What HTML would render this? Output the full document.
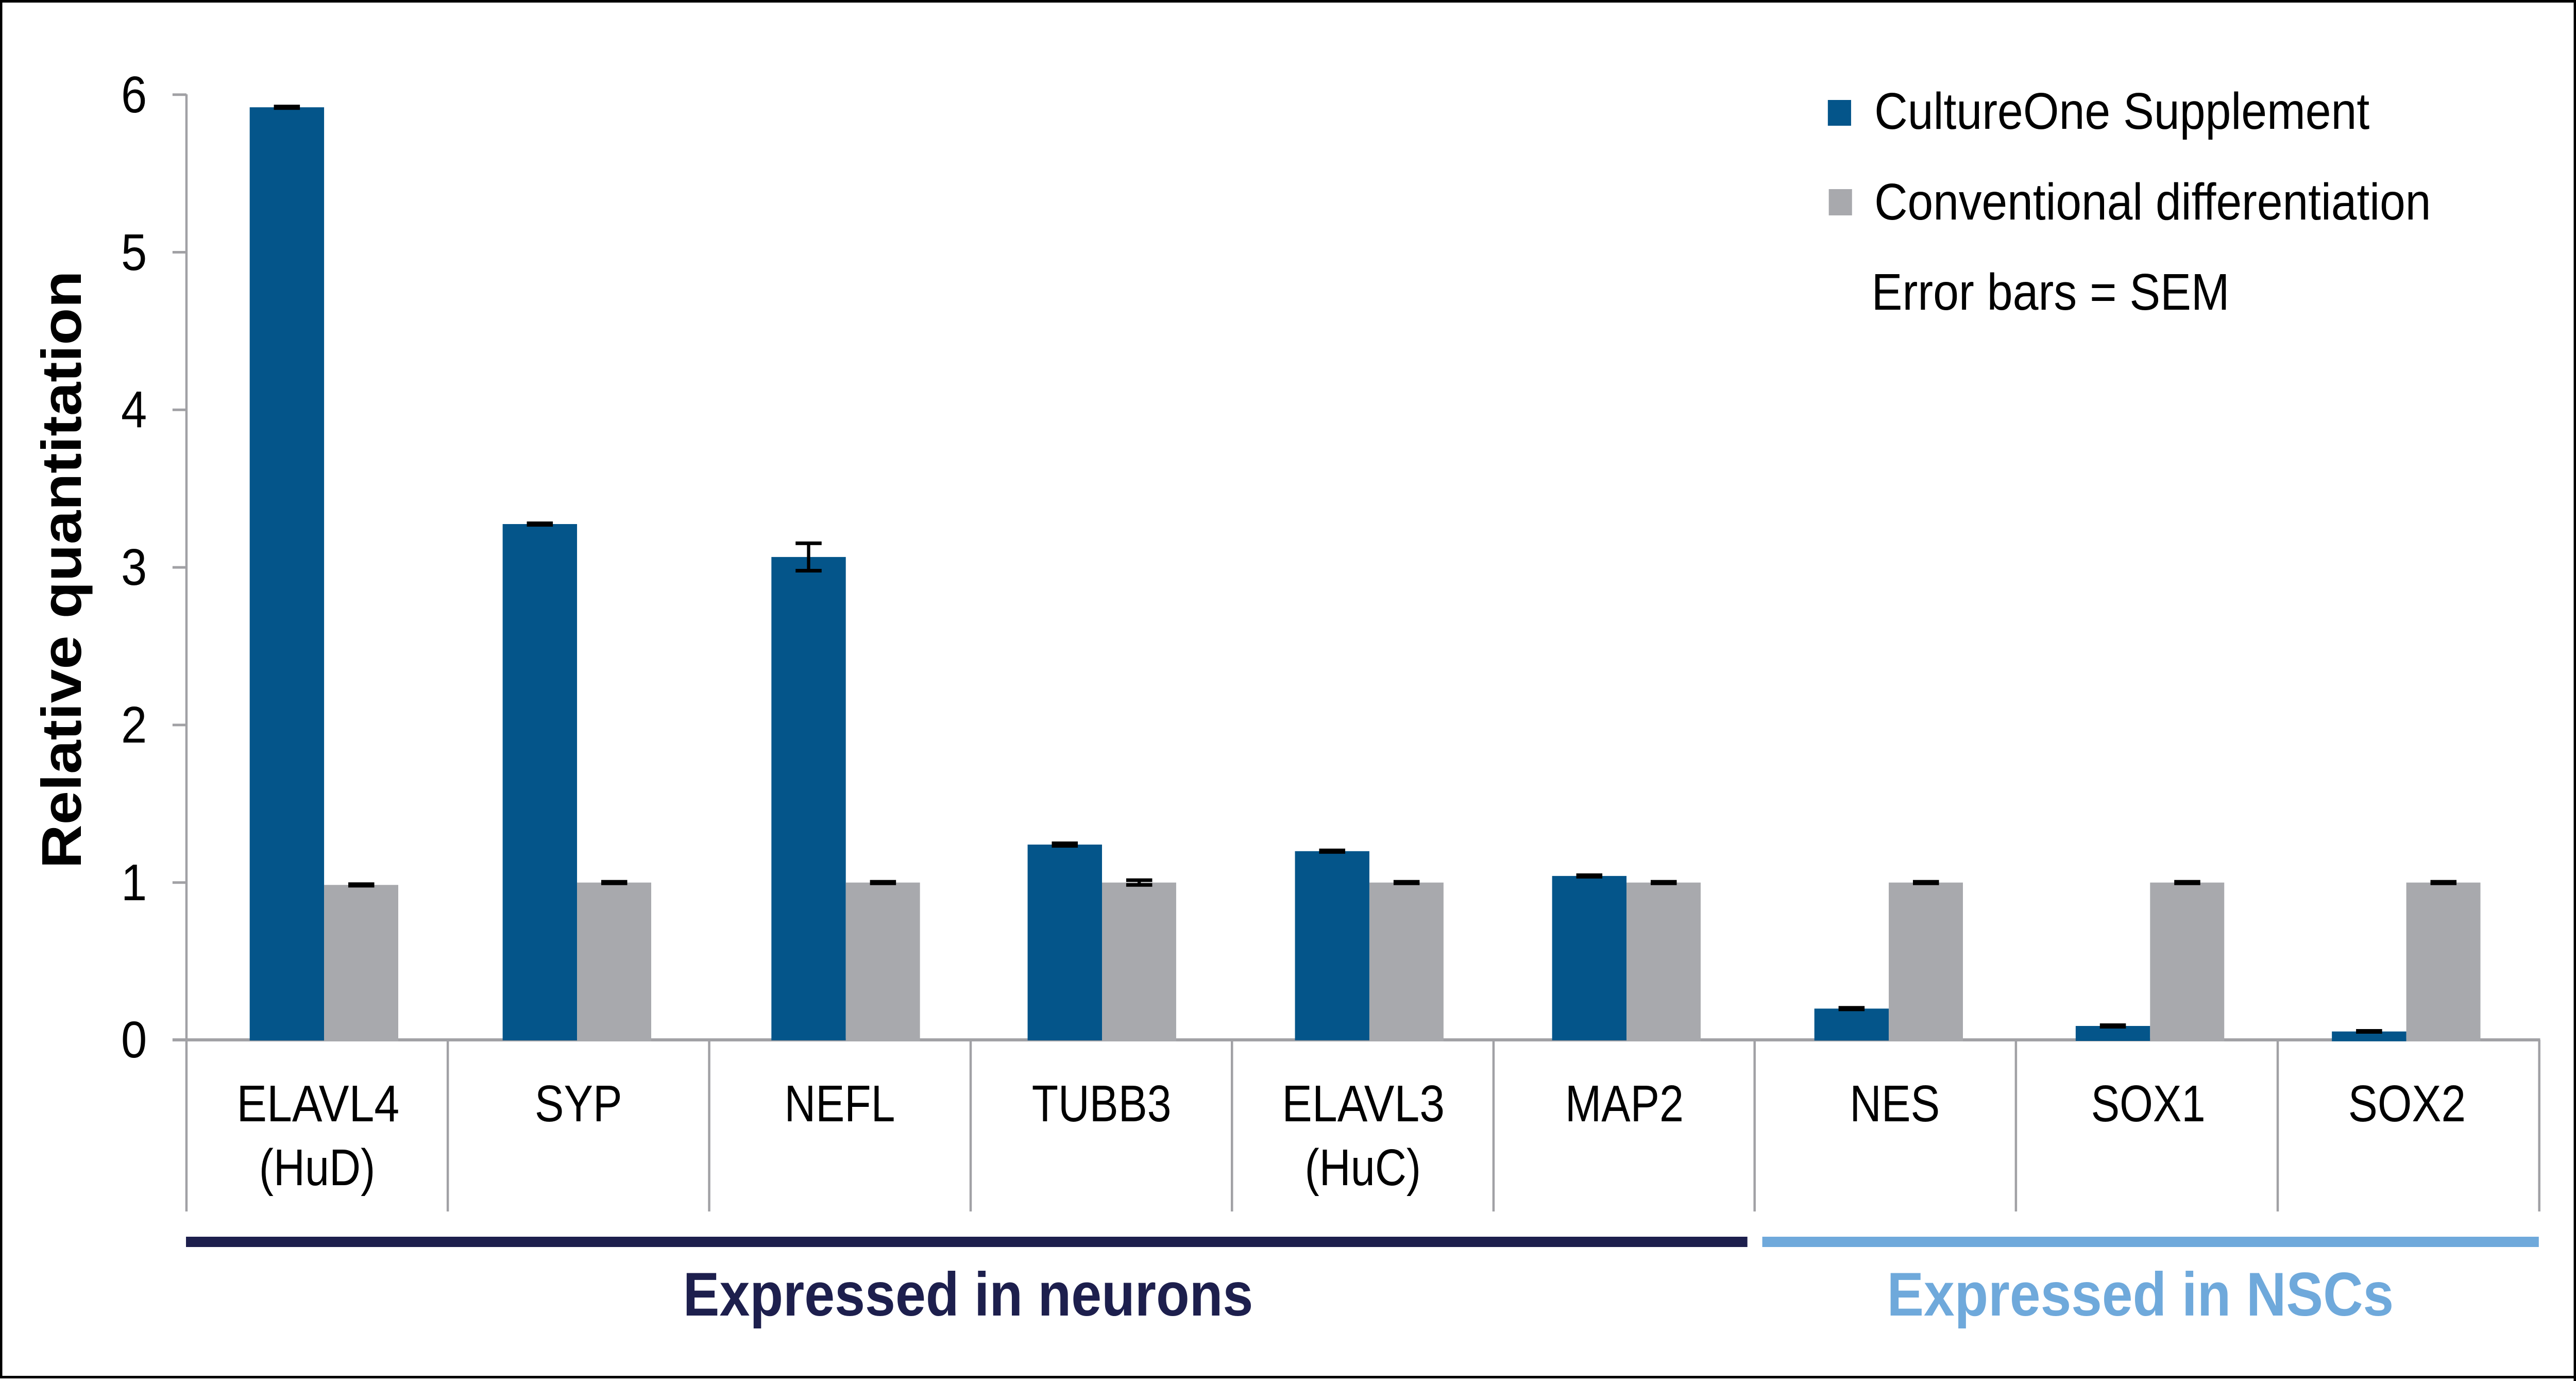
<!DOCTYPE html>
<html>
<head>
<meta charset="utf-8">
<meta name="viewport" content="width=device-width, initial-scale=1">
<style>
  html,body{margin:0;padding:0;background:#fff;overflow:hidden;width:100%;height:100%;}
  svg{display:block;width:100vw;height:100vh;}
  text{font-family:"Liberation Sans", Arial, sans-serif;}
</style>
</head>
<body>
<svg xmlns="http://www.w3.org/2000/svg" viewBox="0 0 5540 2680" preserveAspectRatio="none">
  <rect x="0" y="0" width="5540" height="2680" fill="#ffffff"/>

  <!-- frame -->
  <rect x="0" y="0" width="5540" height="5" fill="#000"/>
  <rect x="0" y="0" width="5" height="2675" fill="#000"/>
  <rect x="5535" y="0" width="5" height="2680" fill="#000"/>
  <rect x="0" y="2670" width="5540" height="5" fill="#000"/>

  <!-- y axis -->
  <g fill="#a1a1a5">
    <rect x="398.5" y="183" width="5" height="2168"/>
    <rect x="371" y="181.2" width="30" height="5"/>
    <rect x="371" y="487" width="30" height="5"/>
    <rect x="371" y="792.8" width="30" height="5"/>
    <rect x="371" y="1098.6" width="30" height="5"/>
    <rect x="371" y="1404.4" width="30" height="5"/>
    <rect x="371" y="1710.2" width="30" height="5"/>
    <!-- x axis -->
    <rect x="371" y="2015" width="5092" height="6"/>
    <!-- category dividers -->
    <rect x="960.5" y="2018" width="5" height="333"/>
    <rect x="1522.7" y="2018" width="5" height="333"/>
    <rect x="2085" y="2018" width="5" height="333"/>
    <rect x="2647" y="2018" width="5" height="333"/>
    <rect x="3209.5" y="2018" width="5" height="333"/>
    <rect x="3771" y="2018" width="5" height="333"/>
    <rect x="4333" y="2018" width="5" height="333"/>
    <rect x="4896" y="2018" width="5" height="333"/>
    <rect x="5458.5" y="2018" width="5" height="333"/>
  </g>

  <!-- tick labels -->
  <g font-size="100" fill="#000" text-anchor="end">
    <text x="316" y="2052">0</text>
    <text x="316" y="1747">1</text>
    <text x="316" y="1441">2</text>
    <text x="316" y="1135">3</text>
    <text x="316" y="829">4</text>
    <text x="316" y="524">5</text>
    <text x="316" y="218">6</text>
  </g>

  <!-- y title -->
  <text transform="translate(174,1105.5) rotate(-90)" x="-580" y="0" font-size="120" font-weight="bold" fill="#000" textLength="1160" lengthAdjust="spacingAndGlyphs">Relative quantitation</text>

  <!-- bars: blue -->
  <g fill="#04558a">
    <rect x="537" y="208.2" width="160" height="1811"/>
    <rect x="1081" y="1017" width="160" height="1002"/>
    <rect x="1659" y="1080.9" width="160" height="938"/>
    <rect x="2210" y="1639" width="160" height="380"/>
    <rect x="2785" y="1651.8" width="160" height="367"/>
    <rect x="3338" y="1699.9" width="160" height="319"/>
    <rect x="3902" y="1957.3" width="160" height="62"/>
    <rect x="4464" y="1991" width="160" height="29"/>
    <rect x="5015" y="2001.7" width="160" height="19"/>
  </g>
  <!-- bars: gray -->
  <g fill="#a8a9ad">
    <rect x="697" y="1717.3" width="159.5" height="303.7"/>
    <rect x="1241" y="1712.7" width="159.5" height="308.3"/>
    <rect x="1819" y="1712.7" width="159.5" height="308.3"/>
    <rect x="2370" y="1712.7" width="159.5" height="308.3"/>
    <rect x="2945" y="1712.7" width="159.5" height="308.3"/>
    <rect x="3498" y="1712.7" width="159.5" height="308.3"/>
    <rect x="4062" y="1712.7" width="159.5" height="308.3"/>
    <rect x="4624" y="1712.7" width="159.5" height="308.3"/>
    <rect x="5175" y="1712.7" width="159.5" height="308.3"/>
  </g>

  <!-- error bars -->
  <g fill="#000">
    <rect x="589" y="203.2" width="56" height="10"/>
    <rect x="749" y="1712.3" width="56" height="10"/>
    <rect x="1133" y="1012" width="56" height="10"/>
    <rect x="1293" y="1707.7" width="56" height="10"/>
    <rect x="1711" y="1050.8" width="56" height="7"/>
    <rect x="1711" y="1104" width="56" height="7"/>
    <rect x="1735.5" y="1054" width="7" height="53.5"/>
    <rect x="1871" y="1707.7" width="56" height="10"/>
    <rect x="2262" y="1633" width="56" height="12"/>
    <rect x="2422" y="1704.6" width="56" height="7"/>
    <rect x="2422" y="1713.8" width="56" height="7"/>
    <rect x="2446.5" y="1708" width="7" height="9"/>
    <rect x="2837" y="1646.8" width="56" height="10"/>
    <rect x="2997" y="1707.7" width="56" height="10"/>
    <rect x="3390" y="1694.9" width="56" height="10"/>
    <rect x="3550" y="1707.7" width="56" height="10"/>
    <rect x="3954" y="1952.3" width="56" height="10"/>
    <rect x="4114" y="1707.7" width="56" height="10"/>
    <rect x="4516" y="1986" width="56" height="10"/>
    <rect x="4676" y="1707.7" width="56" height="10"/>
    <rect x="5067" y="1997" width="56" height="9"/>
    <rect x="5227" y="1707.7" width="56" height="10"/>
  </g>

  <!-- category labels -->
  <g font-size="100" fill="#000">
    <text x="509" y="2176" textLength="350" lengthAdjust="spacingAndGlyphs">ELAVL4</text>
    <text x="557" y="2300" textLength="250" lengthAdjust="spacingAndGlyphs">(HuD)</text>
    <text x="1150" y="2176" textLength="188" lengthAdjust="spacingAndGlyphs">SYP</text>
    <text x="1687" y="2176" textLength="238" lengthAdjust="spacingAndGlyphs">NEFL</text>
    <text x="2219" y="2176" textLength="300" lengthAdjust="spacingAndGlyphs">TUBB3</text>
    <text x="2757" y="2176" textLength="350" lengthAdjust="spacingAndGlyphs">ELAVL3</text>
    <text x="2806" y="2300" textLength="250" lengthAdjust="spacingAndGlyphs">(HuC)</text>
    <text x="3366" y="2176" textLength="255" lengthAdjust="spacingAndGlyphs">MAP2</text>
    <text x="3978" y="2176" textLength="194" lengthAdjust="spacingAndGlyphs">NES</text>
    <text x="4497" y="2176" textLength="246" lengthAdjust="spacingAndGlyphs">SOX1</text>
    <text x="5050" y="2176" textLength="253" lengthAdjust="spacingAndGlyphs">SOX2</text>
  </g>

  <!-- group lines -->
  <rect x="400" y="2400" width="3358" height="20" fill="#1d1f4d"/>
  <rect x="3790" y="2400" width="1670" height="20" fill="#6fa9db"/>

  <!-- group labels -->
  <text x="1469" y="2553" font-size="120" font-weight="bold" fill="#1d1f4d" textLength="1226" lengthAdjust="spacingAndGlyphs">Expressed in neurons</text>
  <text x="4058" y="2553" font-size="120" font-weight="bold" fill="#6fa9db" textLength="1090" lengthAdjust="spacingAndGlyphs">Expressed in NSCs</text>

  <!-- legend -->
  <rect x="3931" y="194" width="50" height="50" fill="#04558a"/>
  <rect x="3933" y="367" width="50" height="51" fill="#a8a9ad"/>
  <g font-size="100" fill="#000">
    <text x="4031" y="250" textLength="1065" lengthAdjust="spacingAndGlyphs">CultureOne Supplement</text>
    <text x="4031" y="426" textLength="1197" lengthAdjust="spacingAndGlyphs">Conventional differentiation</text>
    <text x="4025" y="601" textLength="770" lengthAdjust="spacingAndGlyphs">Error bars = SEM</text>
  </g>
</svg>
</body>
</html>
